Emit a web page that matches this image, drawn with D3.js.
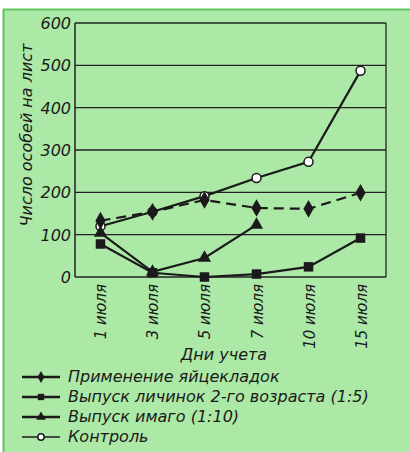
<!DOCTYPE html>
<html><head><meta charset="utf-8">
<script src="https://cdn.jsdelivr.net/npm/d3@7"></script>
<style>
body{margin:0;background:#fff;}
svg{display:block;}
text{font-family:"DejaVu Sans",sans-serif;font-style:italic;fill:#1a1a1a;}
</style></head><body>
<svg id="chart" width="410" height="452"></svg>
<script>
const categories = ["1 июля","3 июля","5 июля","7 июля","10 июля","15 июля"];
const eggs = [133,154,182,163,161,199];
const larvae = [78,10,0,7,24,92];
const imago = [104,12,45,123,null,null];
const control = [120,154,191,234,272,487];
const yTicks = [0,100,200,300,400,500,600];
const seriesNames = ["Применение яйцекладок","Выпуск личинок 2-го возраста (1:5)","Выпуск имаго (1:10)","Контроль"];

const svg = d3.select("#chart");
svg.append("rect").attr("x",3).attr("y",9).attr("width",407).attr("height",443).attr("fill","#ace8a6");
svg.append("line").attr("x1",3).attr("x2",410).attr("y1",9.5).attr("y2",9.5).attr("stroke","#5fc45c").attr("stroke-width",2);
svg.append("line").attr("x1",3.5).attr("x2",3.5).attr("y1",9).attr("y2",452).attr("stroke","#5fc45c").attr("stroke-width",2);

const L=75,R=386,T=23,B=277;
const x = d3.scalePoint().domain(categories).range([L,R]).padding(0.49);
const y = d3.scaleLinear().domain([0,600]).range([B,T]);

// grid
svg.append("g").selectAll("line").data(yTicks).join("line")
  .attr("x1",L).attr("x2",R).attr("y1",d=>y(d)).attr("y2",d=>y(d))
  .attr("stroke","#222").attr("stroke-width",1.3);
svg.append("line").attr("x1",L).attr("x2",L).attr("y1",T).attr("y2",B).attr("stroke","#222").attr("stroke-width",1.5);
svg.append("line").attr("x1",R).attr("x2",R).attr("y1",T).attr("y2",B).attr("stroke","#222").attr("stroke-width",1.3);

// y tick labels
svg.append("g").selectAll("text").data(yTicks).join("text")
  .attr("x",L-4).attr("y",d=>y(d)+6).attr("text-anchor","end")
  .attr("font-size",16).text(d=>d);

// y title
svg.append("text").attr("transform",`translate(32,135) rotate(-90)`)
  .attr("text-anchor","middle").attr("font-size",16).text("Число особей на лист");

// x tick labels
svg.append("g").selectAll("text").data(categories).join("text")
  .attr("transform",d=>`translate(${x(d)+6},284) rotate(-90)`)
  .attr("text-anchor","end").attr("font-size",15).text(d=>d);

svg.append("text").attr("x",224).attr("y",360).attr("text-anchor","middle").attr("font-size",16).text("Дни учета");

const line = d3.line().defined(d=>d.v!=null).x(d=>x(d.c)).y(d=>y(d.v));
function pts(arr){return categories.map((c,i)=>({c,v:arr[i]}));}

const series = [
  {data:control,dash:null,marker:"circle"},
  {data:larvae,dash:null,marker:"square"},
  {data:imago,dash:null,marker:"triangle"},
  {data:eggs,dash:"10,6",marker:"diamond"}
];
const symbols = {circle:null,square:d3.symbolSquare,triangle:d3.symbolTriangle,diamond:d3.symbolDiamond};
const sizes = {square:90,triangle:75,diamond:90};

function drawMarker(g,type,cx,cy){
  if(type==="circle"){
    g.append("circle").attr("cx",cx).attr("cy",cy).attr("r",4.5).attr("fill","#fff").attr("stroke","#1a1a1a").attr("stroke-width",1.5);
  } else {
    g.append("path").attr("transform",`translate(${cx},${cy})`).attr("d",d3.symbol().type(symbols[type]).size(sizes[type])()).attr("fill","#1a1a1a");
  }
}

series.forEach(s=>{
  const p = pts(s.data);
  svg.append("path").datum(p).attr("d",line).attr("fill","none").attr("stroke","#1a1a1a")
    .attr("stroke-width",2.2).attr("stroke-dasharray",s.dash);
});
series.forEach(s=>{
  const g = svg.append("g");
  pts(s.data).filter(d=>d.v!=null).forEach(d=>drawMarker(g,s.marker,x(d.c),y(d.v)));
});

// legend
const legMarkers = ["diamond","square","triangle","circle"];
const legY = [377,397,417,437];
seriesNames.forEach((n,i)=>{
  const g = svg.append("g");
  g.append("line").attr("x1",22).attr("x2",60).attr("y1",legY[i]).attr("y2",legY[i]).attr("stroke","#1a1a1a").attr("stroke-width",legMarkers[i]==="circle"?1.5:2.5);
  if(legMarkers[i]==="circle"){
    g.append("circle").attr("cx",41).attr("cy",legY[i]).attr("r",3.2).attr("fill","#fff").attr("stroke","#1a1a1a").attr("stroke-width",1.5);
  } else {
    g.append("path").attr("transform",`translate(41,${legY[i]})`).attr("d",d3.symbol().type(symbols[legMarkers[i]]).size(40)()).attr("fill","#1a1a1a");
  }
  g.append("text").attr("x",68).attr("y",legY[i]+5).attr("font-size",16).text(n);
});
</script></body></html>
